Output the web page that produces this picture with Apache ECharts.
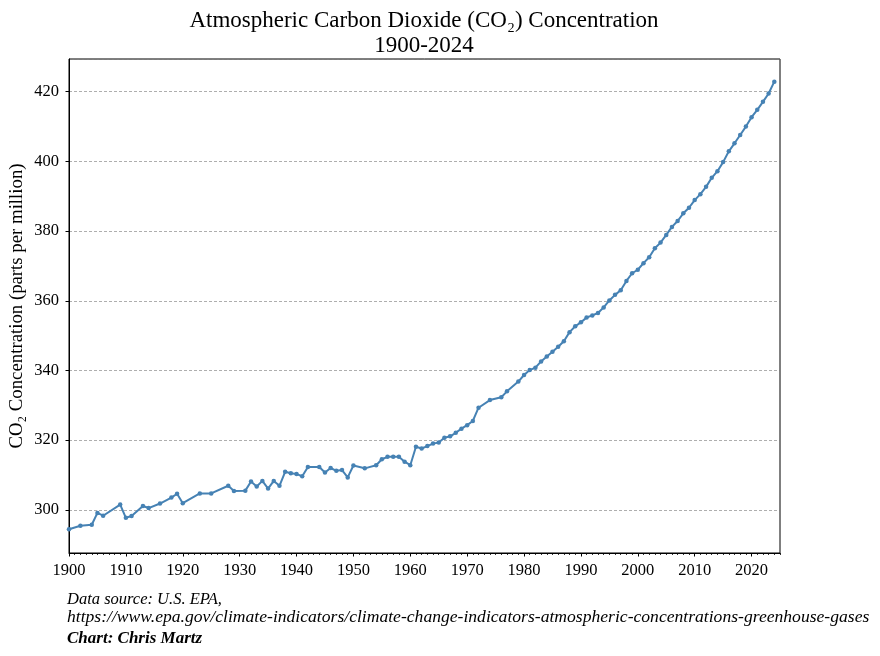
<!DOCTYPE html>
<html>
<head>
<meta charset="utf-8">
<script src="https://cdn.jsdelivr.net/npm/echarts@6/dist/echarts.min.js"></script>
<style>
html,body{margin:0;padding:0;background:#fff;}
#chart{width:880px;height:656px;}
</style>
</head>
<body>
<div id="chart"></div>
<script>
const years = [1900,1902,1904,1905,1906,1909,1910,1911,1913,1914,1916,1918,1919,1920,1923,1925,1928,1929,1931,1932,1933,1934,1935,1936,1937,1938,1939,1940,1941,1942,1944,1945,1946,1947,1948,1949,1950,1952,1954,1955,1956,1957,1958,1959,1960,1961,1962,1963,1964,1965,1966,1967,1968,1969,1970,1971,1972,1974,1976,1977,1979,1980,1981,1982,1983,1984,1985,1986,1987,1988,1989,1990,1991,1992,1993,1994,1995,1996,1997,1998,1999,2000,2001,2002,2003,2004,2005,2006,2007,2008,2009,2010,2011,2012,2013,2014,2015,2016,2017,2018,2019,2020,2021,2022,2023,2024];
const co2 = [294.4,295.4,295.7,299.1,298.3,301.5,297.7,298.2,301.1,300.5,301.8,303.5,304.6,301.9,304.7,304.7,306.9,305.4,305.5,308.1,306.7,308.3,306.1,308.3,306.9,310.9,310.5,310.3,309.6,312.3,312.3,310.7,312.0,311.2,311.4,309.3,312.7,311.9,312.8,314.5,315.2,315.2,315.2,313.8,312.8,318.1,317.6,318.3,319.0,319.3,320.7,321.1,322.1,323.3,324.3,325.5,329.3,331.5,332.3,334.0,336.8,338.7,340.1,340.8,342.6,344.0,345.4,346.8,348.4,351.0,352.7,353.8,355.2,355.8,356.5,358.1,360.1,361.7,363.0,365.7,367.9,368.9,370.8,372.5,375.1,376.7,378.9,381.2,382.9,385.1,386.7,388.9,390.6,392.7,395.3,397.2,399.8,402.9,405.2,407.6,410.0,412.7,414.8,417.1,419.5,422.9];
const yTicks = [300,320,340,360,380,400,420];
const titleLines = ['Atmospheric Carbon Dioxide (CO\u2082) Concentration','1900-2024'];
const yName = 'CO\u2082 Concentration (parts per million)';
const footer = ['Data source: U.S. EPA,','https://www.epa.gov/climate-indicators/climate-change-indicators-atmospheric-concentrations-greenhouse-gases'];
const credit = 'Chart: Chris Martz';

const FONT = 'Liberation Serif';
const chart = echarts.init(document.getElementById('chart'), null, {renderer:'canvas'});
const pts = years.map((y,i)=>[y,co2[i]]);

chart.setOption({
  animation:false,
  backgroundColor:'#fff',
  grid:{left:69,right:100,top:59,bottom:103,show:true,borderColor:'#000',borderWidth:1,backgroundColor:'transparent',
    containLabel:false,outerBoundsMode:'none'},
  xAxis:[{
    type:'value',min:1900,max:2025,interval:10,
    axisLine:{show:true,lineStyle:{color:'#000',width:1}},
    axisTick:{show:true,length:3.5,lineStyle:{color:'#000'}},
    axisLabel:{color:'#000',fontFamily:FONT,fontSize:16.5,margin:9,showMaxLabel:false,formatter:v=>String(v)},
    splitLine:{show:false}
  },{
    type:'value',min:1900,max:2025,interval:1,position:'bottom',
    axisLine:{show:false},
    axisTick:{show:true,length:2,lineStyle:{color:'#000',width:0.8}},
    axisLabel:{show:false},
    splitLine:{show:false}
  }],
  yAxis:{
    type:'value',min:287.6,max:429.4,splitNumber:7,minInterval:20,maxInterval:20,
    axisLine:{show:true,lineStyle:{color:'#000',width:1}},
    axisTick:{show:true,length:3.5,lineStyle:{color:'#000'}},
    axisLabel:{color:'#000',fontFamily:FONT,fontSize:16.5,margin:10,showMinLabel:false,showMaxLabel:false,
      formatter:v=>(yTicks.indexOf(v)>=0?String(v):'')},
    splitLine:{show:true,lineStyle:{color:'#777',type:[3,2],width:0.6}},
    name:yName,nameLocation:'middle',nameGap:42,nameMoveOverlap:false,
    nameTextStyle:{color:'#000',fontFamily:FONT,fontSize:18.8}
  },
  graphic:[
    {type:'text',x:424,y:9,style:{text:titleLines[0],font:'23px "Liberation Serif"',fill:'#000',textAlign:'center'}},
    {type:'text',x:424,y:34,style:{text:titleLines[1],font:'23px "Liberation Serif"',fill:'#000',textAlign:'center'}},
    {type:'text',left:67,top:591,style:{text:footer[0],font:'italic 16.5px "Liberation Serif"',fill:'#000'}},
    {type:'text',left:67,top:608,style:{text:footer[1],font:'italic 17.6px "Liberation Serif"',fill:'#000'}},
    {type:'text',left:67,top:630,style:{text:credit,font:'italic bold 17px "Liberation Serif"',fill:'#000'}}
  ],
  series:[{
    type:'line',data:pts,xAxisIndex:0,
    symbol:'circle',symbolSize:4.5,showSymbol:true,
    lineStyle:{color:'#4682b4',width:2},
    itemStyle:{color:'#4682b4'},
    clip:false
  }]
});
</script>
</body>
</html>
